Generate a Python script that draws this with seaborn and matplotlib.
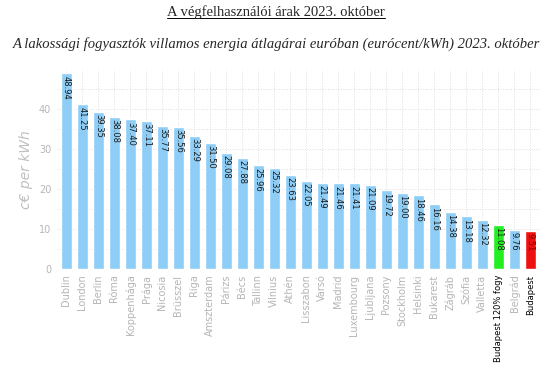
import pandas as pd
import numpy as np
import seaborn as sns
import matplotlib.pyplot as plt
from matplotlib.ticker import MultipleLocator

sns.set_style("white")

# ---------------------------------------------------------------------------- #
#                                     Data                                     #
# ---------------------------------------------------------------------------- #
cities = ["Dublin", "London", "Berlin", "Róma", "Koppenhága", "Prága", "Nicosia",
          "Brüsszel", "Riga", "Amszterdam", "Párizs", "Bécs", "Tallinn", "Vilnius",
          "Athén", "Lisszabon", "Varsó", "Madrid", "Luxembourg", "Ljubljana",
          "Pozsony", "Stockholm", "Helsinki", "Bukarest", "Zágráb", "Szófia",
          "Valletta", "Budapest 120% fogy", "Belgrád", "Budapest"]
prices = [48.94, 41.25, 39.35, 38.08, 37.40, 37.11, 35.77, 35.56, 33.29, 31.50,
          29.08, 27.88, 25.96, 25.32, 23.63, 22.05, 21.49, 21.46, 21.41, 21.09,
          19.72, 19.00, 18.46, 16.16, 14.38, 13.18, 12.32, 11.08, 9.76, 9.51]
highlight = {"Budapest 120% fogy": "#22ee22", "Budapest": "#ee1111"}

df = pd.DataFrame({"city": cities, "price": prices})
bar_colors = [highlight.get(c, "#8ecdf6") for c in cities]

# ---------------------------------------------------------------------------- #
#                                     Plot                                     #
# ---------------------------------------------------------------------------- #
fig = plt.figure(figsize=(5.52, 3.70), dpi=100)
ax = fig.add_axes([0.103, 0.273, 0.875, 0.538])

sns.barplot(data=df, x="city", y="price", hue="city", palette=bar_colors,
            legend=False, width=0.72, ax=ax, saturation=1)

for i, v in enumerate(prices):
    ax.text(i, v - 0.6, f"{v:.2f}", rotation=270, ha="center", va="top",
            fontsize=6, color="#1a1a1a" if cities[i] != "Budapest" else "#7a0000")

ax.set_xlim(-0.6, len(cities) - 0.4)
ax.set_ylim(0, 49.8)
ax.yaxis.set_major_locator(MultipleLocator(10))
ax.yaxis.set_minor_locator(MultipleLocator(5))
ax.grid(True, which="both", axis="both", color="#dddddd", linestyle=":", linewidth=0.7)
ax.set_axisbelow(True)
for s in ax.spines.values():
    s.set_visible(False)

ax.tick_params(axis="both", which="major", length=2, color="#999999",
               labelsize=7, labelcolor="#b5b5b5", pad=2)
ax.tick_params(axis="y", which="minor", length=0)
ax.set_xticks(range(len(cities)))
ax.set_xticklabels(cities, rotation=90)
for lbl in ax.get_xticklabels():
    if lbl.get_text().startswith("Budapest"):
        lbl.set_color("black")
        lbl.set_fontsize(6)

ax.set_xlabel("")
ax.set_ylabel("c€ per kWh", fontsize=10, color="#c0c0c0", style="italic", labelpad=4)

title = fig.text(0.5, 0.967, "A végfelhasználói árak 2023. október", ha="center",
                 va="center", fontsize=10.5, family="Liberation Serif")
fig.text(0.5, 0.88, "A lakossági fogyasztók villamos energia átlagárai euróban "
         "(eurócent/kWh) 2023. október", ha="center", va="center",
         fontsize=10.5, style="italic", family="Liberation Serif")

# underline the title
fig.canvas.draw()
bb = title.get_window_extent().transformed(fig.transFigure.inverted())
fig.add_artist(plt.Line2D([bb.x0, bb.x1], [bb.y0 + 0.003, bb.y0 + 0.003],
                          color="black", linewidth=0.7))

fig.savefig("out.png", dpi=100)
